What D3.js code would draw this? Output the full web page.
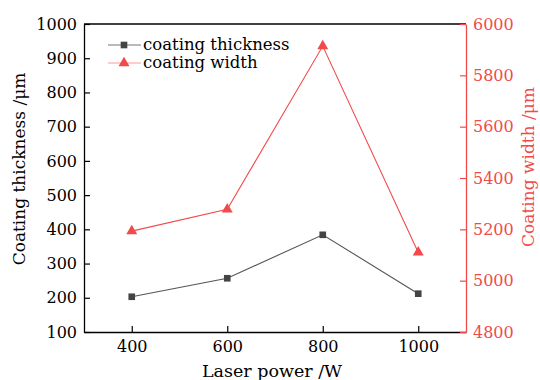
<!DOCTYPE html>
<html>
<head>
<meta charset="utf-8">
<script src="https://cdn.jsdelivr.net/npm/d3@7"></script>
<style>
  body { margin: 0; background: #fff; }
  svg text { font-family: "DejaVu Serif", serif; }
</style>
</head>
<body>
<svg id="chart" width="540" height="380"></svg>
<script>
const power = [400, 600, 800, 1000];
const thickness = [203, 257, 384, 212];
const widthVals = [5193, 5278, 5914, 5110];
const xTicks = [400, 600, 800, 1000];
const yLeftTicks = [100, 200, 300, 400, 500, 600, 700, 800, 900, 1000];
const yRightTicks = [4800, 5000, 5200, 5400, 5600, 5800, 6000];

const W = 540, H = 380;
const m = { left: 84, right: 74, top: 24, bottom: 48 };
const red = '#f24a4a';
const gray = '#444';

const svg = d3.select('#chart');

const x = d3.scaleLinear().domain([300, 1100]).range([m.left, W - m.right]);
const yL = d3.scaleLinear().domain([100, 1000]).range([H - m.bottom, m.top]);
const yR = d3.scaleLinear().domain([4800, 6000]).range([H - m.bottom, m.top]);
const fmt = d3.format('d');

// frame top
svg.append('line')
  .attr('x1', m.left).attr('x2', W - m.right)
  .attr('y1', m.top).attr('y2', m.top)
  .attr('stroke', '#000').attr('stroke-width', 1.3);

const styleAxis = (g, col) => {
  g.selectAll('path').attr('stroke', col).attr('stroke-width', 1.3);
  g.selectAll('line').attr('stroke', col).attr('stroke-width', 1.2);
  g.selectAll('text').attr('fill', col).attr('font-size', 16)
    .attr('font-family', '"DejaVu Serif", serif');
};

svg.append('g')
  .attr('transform', `translate(0,${H - m.bottom})`)
  .call(d3.axisBottom(x).tickValues(xTicks).tickFormat(fmt).tickSizeInner(-6).tickSizeOuter(0).tickPadding(9))
  .call(g => styleAxis(g, '#000'));

svg.append('g')
  .attr('transform', `translate(${m.left},0)`)
  .call(d3.axisLeft(yL).tickValues(yLeftTicks).tickFormat(fmt).tickSizeInner(-6).tickSizeOuter(0).tickPadding(7))
  .call(g => styleAxis(g, '#000'));

svg.append('g')
  .attr('transform', `translate(${W - m.right},0)`)
  .call(d3.axisRight(yR).tickValues(yRightTicks).tickFormat(fmt).tickSizeInner(-6).tickSizeOuter(0).tickPadding(7))
  .call(g => styleAxis(g, red));

// axis titles
svg.append('text')
  .attr('transform', `translate(25,169) rotate(-90)`)
  .attr('text-anchor', 'middle')
  .attr('font-size', 17)
  .text('Coating thickness /μm');

svg.append('text')
  .attr('transform', `translate(534,167) rotate(-90)`)
  .attr('text-anchor', 'middle')
  .attr('font-size', 17)
  .attr('fill', red)
  .text('Coating width /μm');

svg.append('text')
  .attr('x', 272).attr('y', 377)
  .attr('text-anchor', 'middle')
  .attr('font-size', 17.5)
  .text('Laser power /W');

// series
const lineL = d3.line().x((d, i) => x(power[i])).y(d => yL(d));
const lineR = d3.line().x((d, i) => x(power[i])).y(d => yR(d));

svg.append('path').datum(thickness)
  .attr('d', lineL).attr('fill', 'none').attr('stroke', '#555').attr('stroke-width', 1.1);
svg.append('path').datum(widthVals)
  .attr('d', lineR).attr('fill', 'none').attr('stroke', red).attr('stroke-width', 1.1);

const sq = d3.symbol().type(d3.symbolSquare).size(44);
const tri = d3.symbol().type(d3.symbolTriangle).size(52);

svg.append('g').selectAll('path').data(thickness).join('path')
  .attr('transform', (d, i) => `translate(${x(power[i])},${yL(d)})`)
  .attr('d', sq()).attr('fill', gray);

svg.append('g').selectAll('path').data(widthVals).join('path')
  .attr('transform', (d, i) => `translate(${x(power[i])},${yR(d)})`)
  .attr('d', tri()).attr('fill', red);

// legend
const legend = [
  { name: 'coating thickness', col: '#777', mark: sq(), fill: gray },
  { name: 'coating width', col: '#f99', mark: tri(), fill: red }
];
const lg = svg.append('g').selectAll('g').data(legend).join('g')
  .attr('transform', (d, i) => `translate(108,${45 + i * 18})`);
lg.append('line').attr('x1', 0).attr('x2', 33).attr('stroke', d => d.col).attr('stroke-width', 1.1);
lg.append('path').attr('transform', 'translate(16,0)').attr('d', d => d.mark).attr('fill', d => d.fill);
lg.append('text').attr('x', 35).attr('y', 5).attr('font-size', 16.5).text(d => d.name);
</script>
</body>
</html>
